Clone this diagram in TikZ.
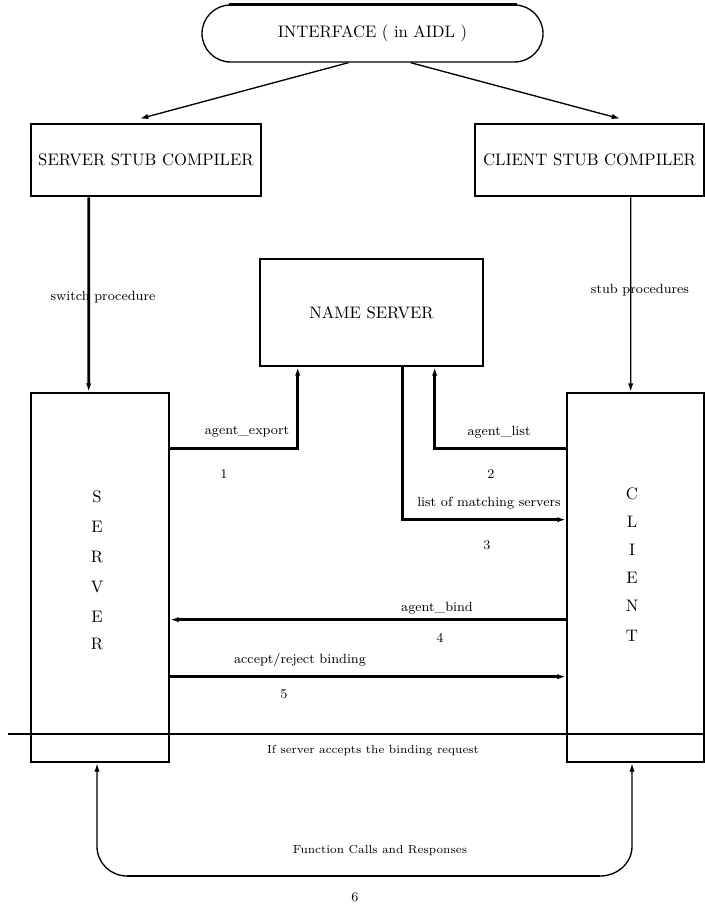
\documentclass[tikz,border=0pt]{standalone}
\usetikzlibrary{arrows.meta,shapes.misc,calc}
\begin{document}
\begin{tikzpicture}[x=0.6pt,y=-0.6pt,
  box/.style={draw,line width=1.6pt,rectangle,inner sep=0pt,font=\normalsize},
  thinline/.style={line width=0.8pt},
  thickline/.style={line width=1.6pt},
  arr/.style={-{Latex[length=5pt,width=3.2pt]}},
  lbl/.style={font=\footnotesize,inner sep=1pt},
  slbl/.style={font=\scriptsize,inner sep=1pt}]
\useasboundingbox (0,0) rectangle (704,906);
% nodes
\node[draw,thinline,rounded rectangle,minimum width=204.6pt,minimum height=34.2pt,inner sep=0pt] (iface) at (372.5,33.5) {INTERFACE ( in AIDL )};
\draw[thickline] ($(iface.north)+(-144,0)$) -- ($(iface.north)+(144,0)$);
\node[box,minimum width=138pt,minimum height=43.2pt] (sstub) at (146,160) {SERVER STUB COMPILER};
\node[box,minimum width=137.4pt,minimum height=43.2pt] (cstub) at (589.5,160) {CLIENT STUB COMPILER};
\node[box,minimum width=133.8pt,minimum height=64.2pt] (ns) at (371.5,312.5) {NAME SERVER};
\node[box,minimum width=82.8pt,minimum height=221.4pt] (server) at (100,577.5) {};
\node[box,minimum width=82.2pt,minimum height=221.4pt] (client) at (635.5,577.5) {};
% vertical letters
\node (sS) at (97,497) {S};
\node (sE) at (97,527) {E};
\node (sR) at (97,557) {R};
\node (sV) at (97,587) {V};
\node (sE2) at (97,617) {E};
\node (sR2) at (97,644) {R};
\node (cC) at (632,494) {C};
\node (cL) at (632,522) {L};
\node (cI) at (632,550) {I};
\node (cE) at (632,578) {E};
\node (cN) at (632,606) {N};
\node (cT) at (632,636) {T};
% interface arrows
\draw[thinline,arr] ($(iface.south)+(-24,0)$) -- ($(sstub.north)+(-6,-4)$);
\draw[thinline,arr] ($(iface.south)+(38,0)$) -- ($(cstub.north)+(30.5,-4)$);
% stub to server / client
\draw[thickline,arr] ($(sstub.south west)+(59,0)$) -- ($(server.north west)+(59,0)$);
\node[lbl] (swp) at (103,297) {switch procedure};
\draw[thinline,arr] ($(cstub.south west)+(157,0)$) -- ($(client.north west)+(65,0)$);
\node[lbl] (stp) at (640,290) {stub procedures};
% agent_export
\draw[thickline,arr] ($(server.north east)+(0,57)$) -| ($(ns.south west)+(39,0)$);
\node[lbl] (l1) at (247,432) {agent\_export};
\node[lbl] (n1) at (224,474) {1};
% agent_list
\draw[thickline,arr] ($(client.north west)+(0,57)$) -| ($(ns.south west)+(176,0)$);
\node[lbl] (l2) at (499,432) {agent\_list};
\node[lbl] (n2) at (491,474) {2};
% list of matching servers
\draw[thickline,arr] ($(ns.south west)+(144,0)$) |- ($(client.north west)+(0,128)$);
\node[lbl] (l3) at (489,503) {list of matching servers};
\node[lbl] (n3) at (487,545) {3};
% agent_bind
\draw[thickline,arr] ($(client.north west)+(0,228)$) -- ($(server.north east)+(0,228)$);
\node[lbl] (l4) at (437,608) {agent\_bind};
\node[lbl] (n4) at (440,638) {4};
% accept/reject
\draw[thickline,arr] ($(server.north east)+(0,285)$) -- ($(client.north west)+(0,285)$);
\node[lbl] (l5) at (300,660) {accept/reject binding};
\node[lbl] (n5) at (284,694) {5};
% divider
\coordinate (dl) at (8,734);
\coordinate (dr) at (704,734);
\draw[thickline] (dl) -- (dr);
\node[slbl] (ifl) at (373,751) {If server accepts the binding request};
% bottom loop
\coordinate (bl) at (127,876);
\coordinate (br) at (600,876);
\draw[thinline,arr] (bl) to[out=180,in=-90] ($(server.south)+(-3,83)$) -- ($(server.south)+(-3,0)$);
\draw[thinline,arr] (br) to[out=0,in=-90] ($(client.south)+(-3.5,83)$) -- ($(client.south)+(-3.5,0)$);
\draw[thickline] (bl) -- (br);
\node[slbl] (fcr) at (380,851) {Function Calls and Responses};
\node[lbl] (n6) at (355,897) {6};
\end{tikzpicture}
\end{document}
